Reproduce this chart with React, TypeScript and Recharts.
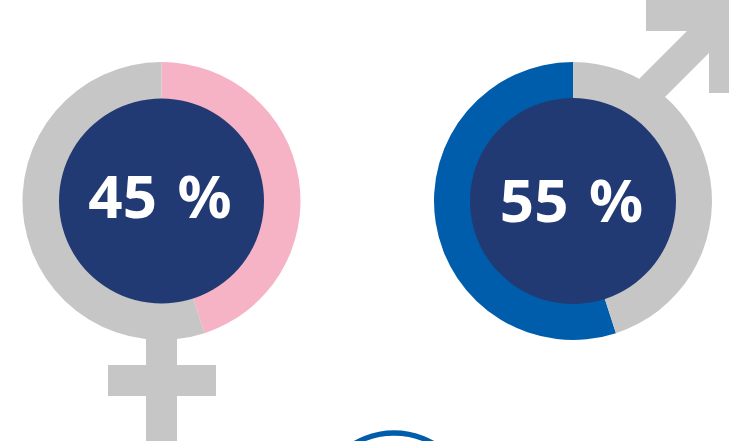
import { PieChart, Pie, Cell } from "recharts";

const FEMALE_SHARE = [45, 55];
const MALE_SHARE = [55, 45];
const FEMALE_COLORS = ["#f6b3c6", "#c6c6c6"];
const MALE_COLORS = ["#005dab", "#c6c6c6"];
const HUB = [1];
const FEMALE_LABEL = "45 %";
const MALE_LABEL = "55 %";

const GREY = "#c6c6c6";
const NAVY = "#223a74";
const labelFont = {
  fontFamily: "'Noto Sans', sans-serif",
  fontWeight: 700,
  fontSize: 60,
  wordSpacing: 5,
};

const toRows = (values: number[]) => values.map((value) => ({ value }));

export default function App() {
  return (
    <div style={{ position: "absolute", left: 0, top: 0, width: 729, height: 441, overflow: "hidden" }}>
      <PieChart width={729} height={441} margin={{ top: 0, right: 0, bottom: 0, left: 0 }}>
        {/* gender symbols */}
        <rect x={146} y={335} width={31} height={106} fill={GREY} />
        <rect x={108} y={365} width={108} height={31} fill={GREY} />
        <polygon
          points="646,0 646,31 687,31 639,79 665,97 709,53 709,93 729,93 729,0"
          fill={GREY}
        />
        {/* top of the next ring, cut off by the page */}
        <circle cx={394} cy={511} r={78} fill="none" stroke="#005dab" strokeWidth={5.5} />

        <Pie
          data={toRows(FEMALE_SHARE)}
          dataKey="value"
          cx={161.5}
          cy={201}
          innerRadius={95}
          outerRadius={139}
          startAngle={90}
          endAngle={-270}
          stroke="none"
          isAnimationActive={false}
        >
          {FEMALE_SHARE.map((_, i) => (
            <Cell key={i} fill={FEMALE_COLORS[i]} />
          ))}
        </Pie>
        <Pie
          data={toRows(HUB)}
          dataKey="value"
          cx={161.5}
          cy={201}
          innerRadius={0}
          outerRadius={102.5}
          stroke="none"
          fill={NAVY}
          isAnimationActive={false}
        />
        <Pie
          data={toRows(MALE_SHARE)}
          dataKey="value"
          cx={573}
          cy={201}
          innerRadius={95}
          outerRadius={139}
          startAngle={90}
          endAngle={450}
          stroke="none"
          isAnimationActive={false}
        >
          {MALE_SHARE.map((_, i) => (
            <Cell key={i} fill={MALE_COLORS[i]} />
          ))}
        </Pie>
        <Pie
          data={toRows(HUB)}
          dataKey="value"
          cx={573}
          cy={201}
          innerRadius={0}
          outerRadius={103}
          stroke="none"
          fill={NAVY}
          isAnimationActive={false}
        />
      </PieChart>
      {/* percentages sit on their own layer, pies paint over chart children */}
      <svg width={729} height={441} style={{ position: "absolute", left: 0, top: 0 }}>
        <text x={160} y={218} textAnchor="middle" fill="#ffffff" style={labelFont}>
          {FEMALE_LABEL}
        </text>
        <text x={571.5} y={222} textAnchor="middle" fill="#ffffff" style={labelFont}>
          {MALE_LABEL}
        </text>
      </svg>
    </div>
  );
}
